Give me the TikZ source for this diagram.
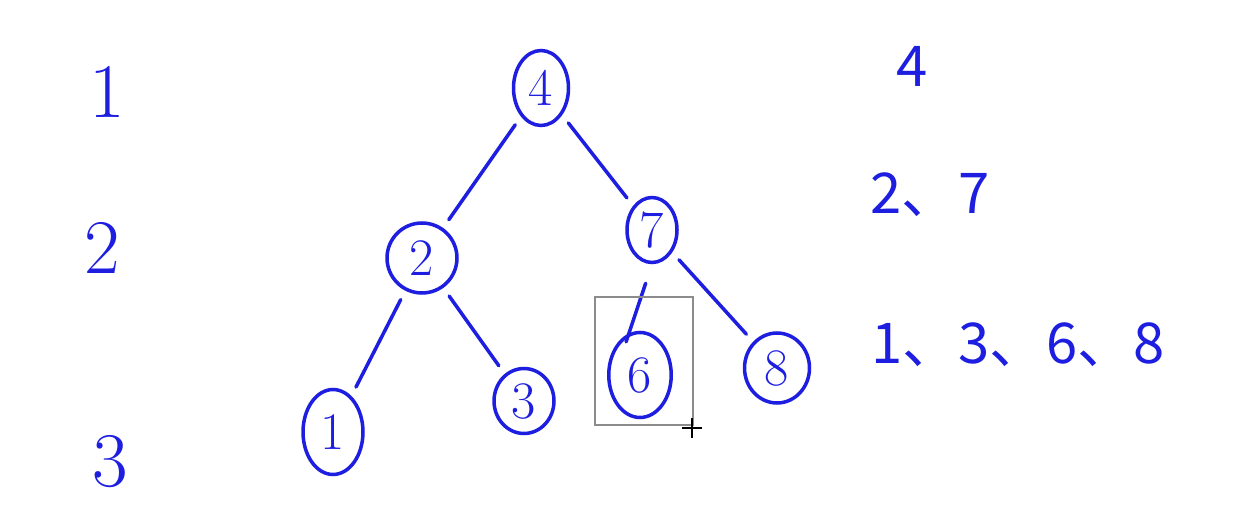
\documentclass[tikz,border=0pt]{standalone}
\usepackage{xcolor}
\usepackage{fontspec}
\usepackage{tikz}
\usetikzlibrary{shapes.geometric, positioning}
\newfontfamily\cjkfont{Noto Sans CJK SC}
\definecolor{penblue}{RGB}{30,30,225}
\definecolor{boxgray}{RGB}{140,140,140}
\tikzset{
  treenode/.style={ellipse, draw=penblue, text=penblue, line width=2pt,
    inner sep=0pt, font=\fontsize{30}{30}\selectfont},
  levelnum/.style={text=penblue, font=\fontsize{44}{44}\selectfont},
  levellist/.style={text=penblue, font=\cjkfont\fontsize{32}{32}\selectfont},
  edge/.style={line width=2pt, color=penblue, line cap=round,
    shorten <=0.2cm, shorten >=0.2cm}
}

\begin{document}
\begin{tikzpicture}[x=0.02cm, y=-0.02cm]
  \useasboundingbox (0,0) rectangle (1258,510);

  % level numbers
  \node[levelnum] (lv1) at (107,92) {1};
  \node[levelnum] (lv2) at (102,248) {2};
  \node[levelnum] (lv3) at (110,462) {3};

  % the tree
  \node[treenode, minimum width=1.1cm, minimum height=1.5cm] (n4) at (541,88) {4};
  \node[treenode, minimum width=1.4cm, minimum height=1.4cm] (n2) at (422,258) {2};
  \node[treenode, minimum width=1.0cm, minimum height=1.3cm] (n7) at (652,230) {7};
  \node[treenode, minimum width=1.2cm, minimum height=1.7cm] (n1) at (333,432) {1};
  \node[treenode, minimum width=1.2cm, minimum height=1.3cm] (n3) at (524,401) {3};
  \node[treenode, minimum width=1.25cm, minimum height=1.7cm] (n6) at (640,375) {6};
  \node[treenode, minimum width=1.3cm, minimum height=1.4cm] (n8) at (777,368) {8};

  \draw[edge] (n4) -- (n2);
  \draw[edge] (n4) -- (n7);
  \draw[edge] (n2) -- (n1);
  \draw[edge] (n2) -- (n3);
  \draw[edge, shorten <=0.4cm, shorten >=0.7cm] (n7.south) -- ([xshift=-0.5cm]n6.center);
  \draw[edge] (n7) -- (n8);

  % selection box and cursor
  \draw[boxgray, line width=0.8pt] (595,297) rectangle (693,425);
  \coordinate (cur) at (692,428);
  \draw[black, line width=0.9pt] ([xshift=-0.2cm]cur) -- ([xshift=0.2cm]cur);
  \draw[black, line width=0.9pt] ([yshift=0.2cm]cur) -- ([yshift=-0.2cm]cur);

  % nodes per level
  \node[levellist] (row1) at (912,66) {4};
  \node[levellist] (row2) at (930,195) {2、7};
  \node[levellist] (row3) at (1018,345) {1、3、6、8};
\end{tikzpicture}
\end{document}
